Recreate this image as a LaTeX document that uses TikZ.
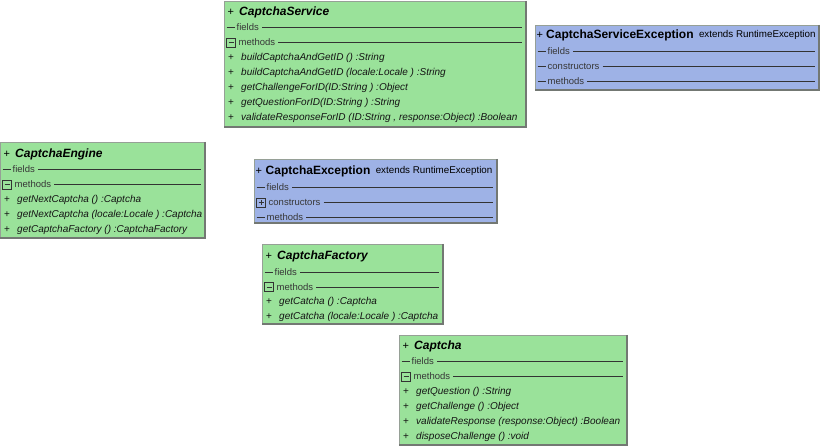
\documentclass[tikz,border=0pt]{standalone}
\usepackage{fontspec}
\setmainfont{Liberation Sans}
\definecolor{cgreen}{RGB}{154,226,154}
\definecolor{cblue}{RGB}{158,178,230}
\definecolor{cborder}{RGB}{150,160,150}
\definecolor{cshadow}{RGB}{115,120,115}
\definecolor{ctext}{RGB}{20,20,20}
\definecolor{csect}{RGB}{55,55,55}
\tikzset{
  sepline/.style={draw=black!80, line width=0.5pt},
  iconbox/.style={draw=black!80, line width=0.6pt},
  titletext/.style={inner sep=0pt, text=black, font=\fontsize{12}{14}\selectfont\bfseries\itshape},
  titleplain/.style={inner sep=0pt, text=black, font=\fontsize{12}{14}\selectfont\bfseries},
  exttext/.style={inner sep=0pt, text=black, font=\fontsize{9.8}{12}\selectfont},
  plustext/.style={inner sep=0pt, text=black, font=\fontsize{11}{13}\selectfont},
  secttext/.style={inner sep=0pt, text=csect, font=\fontsize{9.5}{11}\selectfont},
  methtext/.style={inner sep=0pt, text=ctext, font=\fontsize{10}{12}\selectfont\itshape},
  methplus/.style={inner sep=0pt, text=ctext, font=\fontsize{10}{12}\selectfont},
}
% #1 name, #2 x1, #3 y1, #4 x2, #5 y2, #6 colour
\newcommand{\umlbox}[6]{%
  \pgfmathsetmacro\bw{#4-#2}\pgfmathsetmacro\bh{#5-#3}%
  \node[anchor=north west, inner sep=0pt, outer sep=0pt, minimum width=\bw pt, minimum height=\bh pt, fill=#6, draw=cborder, line width=0.5pt] (#1) at (#2,#3) {};
  \draw[cshadow, line width=1.2pt] (#1.north east) -- (#1.south east) -- (#1.south west);
}
% #1 name, #2 x1, #3 y, #4 name text, #5 style, #6 plus offset, #7 name offset
\newcommand{\umltitle}[7]{%
  \pgfmathsetmacro\xp{#2+#6}\pgfmathsetmacro\xn{#2+#7}%
  \node[plustext, anchor=west] (#1p) at (\xp,#3) {+};
  \node[#5, anchor=west] (#1) at (\xn,#3) {#4};
}
% #1 name, #2 x1, #3 x2, #4 y, #5 label, #6 icon 0 none 1 minus 2 plus
\newcommand{\umlsect}[6]{%
  \pgfmathsetmacro\xa{#2+2.5}\pgfmathsetmacro\xb{#2+11.5}\pgfmathsetmacro\xe{#3-4}%
  \pgfmathsetmacro\ya{#4-4.5}\pgfmathsetmacro\yb{#4+4.5}%
  \pgfmathsetmacro\xc{#2+4.5}\pgfmathsetmacro\xd{#2+9.5}\pgfmathsetmacro\xm{#2+7}%
  \pgfmathsetmacro\yc{#4-2.5}\pgfmathsetmacro\yd{#4+2.5}%
  \ifcase#6
    \pgfmathsetmacro\xb{#2+10.5}%
    \draw[sepline] (\xa,#4) -- (\xb,#4);
    \pgfmathsetmacro\xt{#2+12.5}%
  \or
    \draw[iconbox] (\xa,\ya) rectangle (\xb,\yb);
    \draw[sepline] (\xc,#4) -- (\xd,#4);
    \pgfmathsetmacro\xt{#2+14.5}%
  \or
    \draw[iconbox] (\xa,\ya) rectangle (\xb,\yb);
    \draw[sepline] (\xc,#4) -- (\xd,#4);
    \draw[sepline] (\xm,\yc) -- (\xm,\yd);
    \pgfmathsetmacro\xt{#2+14.5}%
  \fi
  \node[secttext, anchor=west] (#1) at (\xt,#4) {#5};
  \draw[sepline] ([xshift=3pt]#1.east) -- (\xe,#4);
}
% #1 name, #2 x1, #3 y, #4 text
\newcommand{\umlmeth}[4]{%
  \pgfmathsetmacro\xp{#2+4}\pgfmathsetmacro\xt{#2+17}%
  \node[methplus, anchor=west] (#1p) at (\xp,#3) {+};
  \node[methtext, anchor=west] (#1) at (\xt,#3) {#4};
}
\begin{document}
\begin{tikzpicture}[x=1pt,y=-1pt]
\useasboundingbox[fill=white] (0,0) rectangle (822,446);

% CaptchaService
\umlbox{cs}{224}{1}{526}{127}{cgreen}
\umltitle{csT}{224}{12}{CaptchaService}{titletext}{3.5}{15}
\umlsect{csF}{224}{526}{27.5}{fields}{0}
\umlsect{csM}{224}{526}{42.5}{methods}{1}
\umlmeth{csm1}{224}{58}{buildCaptchaAndGetID () :String}
\umlmeth{csm2}{224}{73}{buildCaptchaAndGetID (locale:Locale ) :String}
\umlmeth{csm3}{224}{88}{getChallengeForID(ID:String ) :Object}
\umlmeth{csm4}{224}{102.5}{getQuestionForID(ID:String ) :String}
\umlmeth{csm5}{224}{117.5}{validateResponseForID (ID:String ,  response:Object) :Boolean}

% CaptchaServiceException
\umlbox{cse}{535}{25}{819}{90}{cblue}
\umltitle{cseT}{535}{35}{CaptchaServiceException}{titleplain}{1.5}{11}
\node[exttext, anchor=west] (cseX) at ([xshift=5pt]cseT.east) {extends RuntimeException};
\umlsect{cseF}{535}{819}{51.5}{fields}{0}
\umlsect{cseC}{535}{819}{66.5}{constructors}{0}
\umlsect{cseM}{535}{819}{81.5}{methods}{0}

% CaptchaEngine
\umlbox{ce}{0}{142}{205}{238}{cgreen}
\umltitle{ceT}{0}{154}{CaptchaEngine}{titletext}{3.5}{15}
\umlsect{ceF}{0}{205}{169.5}{fields}{0}
\umlsect{ceM}{0}{205}{184.5}{methods}{1}
\umlmeth{cem1}{0}{200}{getNextCaptcha () :Captcha}
\umlmeth{cem2}{0}{215}{getNextCaptcha (locale:Locale ) :Captcha}
\umlmeth{cem3}{0}{230}{getCaptchaFactory () :CaptchaFactory}

% CaptchaException
\umlbox{cx}{254}{159}{497}{223}{cblue}
\umltitle{cxT}{254}{171}{CaptchaException}{titleplain}{1.5}{11.5}
\node[exttext, anchor=west] (cxX) at ([xshift=5pt]cxT.east) {extends RuntimeException};
\umlsect{cxF}{254}{497}{187.5}{fields}{0}
\umlsect{cxC}{254}{497}{202.5}{constructors}{2}
\umlsect{cxM}{254}{497}{217.5}{methods}{0}

% CaptchaFactory
\umlbox{cf}{262}{244}{443}{324}{cgreen}
\umltitle{cfT}{262}{256}{CaptchaFactory}{titletext}{3.5}{15}
\umlsect{cfF}{262}{443}{272}{fields}{0}
\umlsect{cfM}{262}{443}{287}{methods}{1}
\umlmeth{cfm1}{262}{302}{getCatcha () :Captcha}
\umlmeth{cfm2}{262}{317}{getCatcha (locale:Locale ) :Captcha}

% Captcha
\umlbox{c}{399}{335}{627}{445}{cgreen}
\umltitle{cT}{399}{346}{Captcha}{titletext}{3.5}{15}
\umlsect{cF}{399}{627}{361.5}{fields}{0}
\umlsect{cM}{399}{627}{376.5}{methods}{1}
\umlmeth{cm1}{399}{392}{getQuestion () :String}
\umlmeth{cm2}{399}{407}{getChallenge () :Object}
\umlmeth{cm3}{399}{422}{validateResponse (response:Object) :Boolean}
\umlmeth{cm4}{399}{437}{disposeChallenge () :void}
\end{tikzpicture}
\end{document}
